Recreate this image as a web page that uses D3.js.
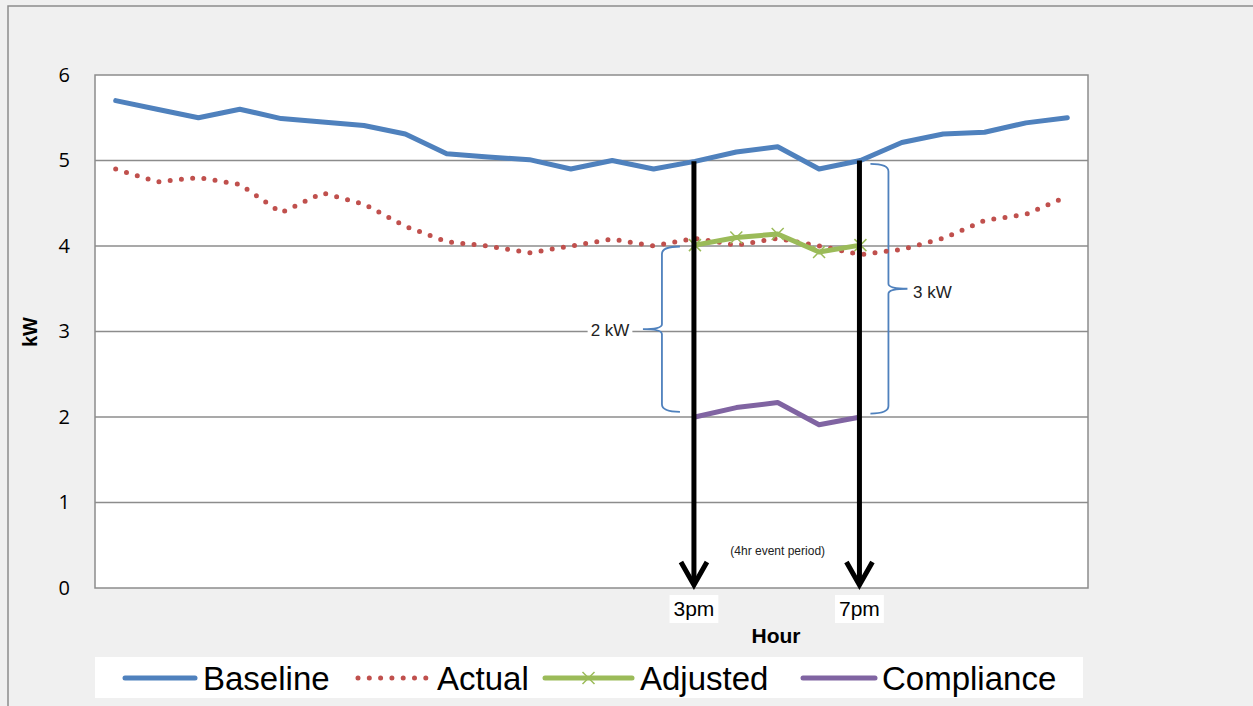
<!DOCTYPE html>
<html><head><meta charset="utf-8">
<script src="https://cdn.jsdelivr.net/npm/d3@7"></script>
<style>body{margin:0;background:#f0f0f0}svg{display:block}</style>
</head><body><svg id="c" width="1253" height="706"></svg>
<script>
const hours = d3.range(1, 25);
const baseline = [5.70,5.60,5.50,5.60,5.49,5.45,5.41,5.31,5.08,5.04,5.01,4.90,5.00,4.90,4.99,5.10,5.16,4.90,5.00,5.21,5.31,5.33,5.44,5.50];
const actual   = [4.90,4.75,4.80,4.72,4.39,4.62,4.49,4.23,4.05,4.00,3.92,4.00,4.08,4.00,4.09,4.01,4.09,4.00,3.90,3.96,4.09,4.30,4.37,4.58];
const adjusted = [null,null,null,null,null,null,null,null,null,null,null,null,null,null,4.01,4.10,4.14,3.93,4.01,null,null,null,null,null];
const compliance=[null,null,null,null,null,null,null,null,null,null,null,null,null,null,2.00,2.11,2.17,1.91,2.00,null,null,null,null,null];
const yTicks = [0,1,2,3,4,5,6];
const seriesNames = ["Baseline","Actual","Adjusted","Compliance"];
const eventStart = 15, eventEnd = 19;
const eventLabels = ["3pm","7pm"];

const svg = d3.select("#c");
const L=95,R=1088,T=75,B=588;
const x = d3.scaleBand().domain(hours).range([L,R]);
const xc = h => x(h) + x.bandwidth()/2;
const y = d3.scaleLinear().domain([0,6]).range([B,T]);
const FONT = "Liberation Sans, Arial, sans-serif";

svg.append("rect").attr("x",8).attr("y",6).attr("width",1260).attr("height",720)
  .attr("fill","#f0f0f0").attr("stroke","#8c8c8c").attr("stroke-width",1.5);
svg.append("rect").attr("x",L).attr("y",T).attr("width",R-L).attr("height",B-T)
  .attr("fill","#fff").attr("stroke","#8c8c8c").attr("stroke-width",1.5);
svg.append("g").selectAll("line").data(yTicks.filter(t=>t>0&&t<6)).join("line")
  .attr("x1",L).attr("x2",R).attr("y1",d=>y(d)).attr("y2",d=>y(d))
  .attr("stroke","#8c8c8c").attr("stroke-width",1.5);

const yAxis = d3.axisLeft(y).tickValues(yTicks).tickFormat(d3.format("d")).tickSize(0).tickPadding(25);
const ga = svg.append("g").attr("transform",`translate(${L},0)`).call(yAxis);
ga.select(".domain").remove();
ga.selectAll("text").attr("font-family","Open Sans, Liberation Sans, sans-serif").attr("font-size",20).attr("fill","#000");
svg.append("text").attr("transform","translate(37,332) rotate(-90)").attr("text-anchor","middle")
  .attr("font-family",FONT).attr("font-weight","bold").attr("font-size",20).text("kW");

const line = arr => d3.line().defined((d,i)=>arr[i]!=null).x((d,i)=>xc(hours[i])).y((d,i)=>y(arr[i]))(arr);

const brace = (xv, y1, y2, dir, tipX) => {
  const e = xv - dir*18, ym=(y1+y2)/2, r=5;
  return `M${e},${y1} Q${xv},${y1} ${xv},${y1+r*1.5} L${xv},${ym-r} Q${xv},${ym} ${tipX},${ym} Q${xv},${ym} ${xv},${ym+r} L${xv},${y2-r*1.5} Q${xv},${y2} ${e},${y2}`;
};
const bx1 = xc(eventStart)-33, bx2 = xc(eventEnd)+28;
svg.append("path").attr("d",brace(bx1, y(4.0)+0.5, y(2.06), -1, bx1-19)).attr("fill","none").attr("stroke","#4f81bd").attr("stroke-width",1.8);
svg.append("path").attr("d",brace(bx2, y(4.96), y(2.04), 1, bx2+19)).attr("fill","none").attr("stroke","#4f81bd").attr("stroke-width",1.8);
const lab = (t, cx, cy, anchor) => {
  const g = svg.append("g");
  const tx = g.append("text").attr("x",cx).attr("y",cy).attr("dy","0.35em").attr("text-anchor",anchor)
    .attr("font-family",FONT).attr("font-size",17).attr("fill","#222").text(t);
  const bb = tx.node().getBBox();
  g.insert("rect","text").attr("x",bb.x-3).attr("y",bb.y).attr("width",bb.width+6).attr("height",bb.height).attr("fill","#fff");
};
lab("2 kW", 610, y(3)-1, "middle");
lab("3 kW", 913, 292, "start");

svg.append("path").attr("d",line(baseline)).attr("fill","none").attr("stroke","#4f81bd").attr("stroke-width",5).attr("stroke-linejoin","round").attr("stroke-linecap","round");
svg.append("path").attr("d",line(actual)).attr("fill","none").attr("stroke","#c0504d").attr("stroke-width",5).attr("stroke-dasharray","0 11.3").attr("stroke-linecap","round");
svg.append("path").attr("d",line(compliance)).attr("fill","none").attr("stroke","#8064a2").attr("stroke-width",5).attr("stroke-linejoin","round");
svg.append("path").attr("d",line(adjusted)).attr("fill","none").attr("stroke","#9bbb59").attr("stroke-width",5).attr("stroke-linejoin","round");
const xm = svg.append("g");
adjusted.forEach((v,i)=>{ if(v==null) return; const cx=xc(hours[i]), cy=y(v), s=6;
  xm.append("path").attr("d",`M${cx-s},${cy-s}L${cx+s},${cy+s}M${cx-s},${cy+s}L${cx+s},${cy-s}`).attr("stroke","#9bbb59").attr("stroke-width",1.5);});

[eventStart,eventEnd].forEach((h,k)=>{
  const ax = xc(h)-1, top = y(baseline[hours.indexOf(h)]), tip = 585;
  svg.append("line").attr("x1",ax).attr("x2",ax).attr("y1",top).attr("y2",tip-3).attr("stroke","#000").attr("stroke-width",5);
  svg.append("path").attr("d",`M${ax-13},${tip-23}L${ax},${tip}L${ax+13},${tip-23}`).attr("fill","none").attr("stroke","#000").attr("stroke-width",5).attr("stroke-linejoin","miter");
  const g = svg.append("g");
  const t = g.append("text").attr("x",ax).attr("y",609).attr("dy","0.35em").attr("text-anchor","middle")
    .attr("font-family",FONT).attr("font-size",21).attr("fill","#000").text(eventLabels[k]);
  const bb = t.node().getBBox();
  g.insert("rect","text").attr("x",bb.x-4).attr("y",595).attr("width",bb.width+8).attr("height",28).attr("fill","#fff");
});
svg.append("text").attr("x",(xc(eventStart)+xc(eventEnd))/2).attr("y",551).attr("dy","0.35em").attr("text-anchor","middle")
  .attr("font-family",FONT).attr("font-size",12).attr("fill","#222").text("(4hr event period)");
svg.append("text").attr("x",776).attr("y",636).attr("dy","0.35em").attr("text-anchor","middle")
  .attr("font-family",FONT).attr("font-weight","bold").attr("font-size",21).text("Hour");

svg.append("rect").attr("x",95).attr("y",657).attr("width",988).attr("height",41).attr("fill","#fff");
const legX = [[125,195,203],[358,428,437],[545,632,640],[803,875,882]];
const legStyle = [{c:"#4f81bd"},{c:"#c0504d",dash:"0 11.3"},{c:"#9bbb59",mark:true},{c:"#8064a2"}];
seriesNames.forEach((n,i)=>{
  const [a,b,tx]=legX[i], st=legStyle[i], ly=678;
  const l = svg.append("line").attr("x1",a).attr("x2",b).attr("y1",ly).attr("y2",ly).attr("stroke",st.c).attr("stroke-width",5).attr("stroke-linecap","round");
  if(st.dash) l.attr("stroke-dasharray",st.dash);
  if(st.mark){const cx=(a+b)/2,s=6; svg.append("path").attr("d",`M${cx-s},${ly-s}L${cx+s},${ly+s}M${cx-s},${ly+s}L${cx+s},${ly-s}`).attr("stroke",st.c).attr("stroke-width",1.5);}
  svg.append("text").attr("x",tx).attr("y",ly).attr("dy","0.36em").attr("font-family",FONT).attr("font-size",33).attr("fill","#000").text(n);
});
</script></body></html>
